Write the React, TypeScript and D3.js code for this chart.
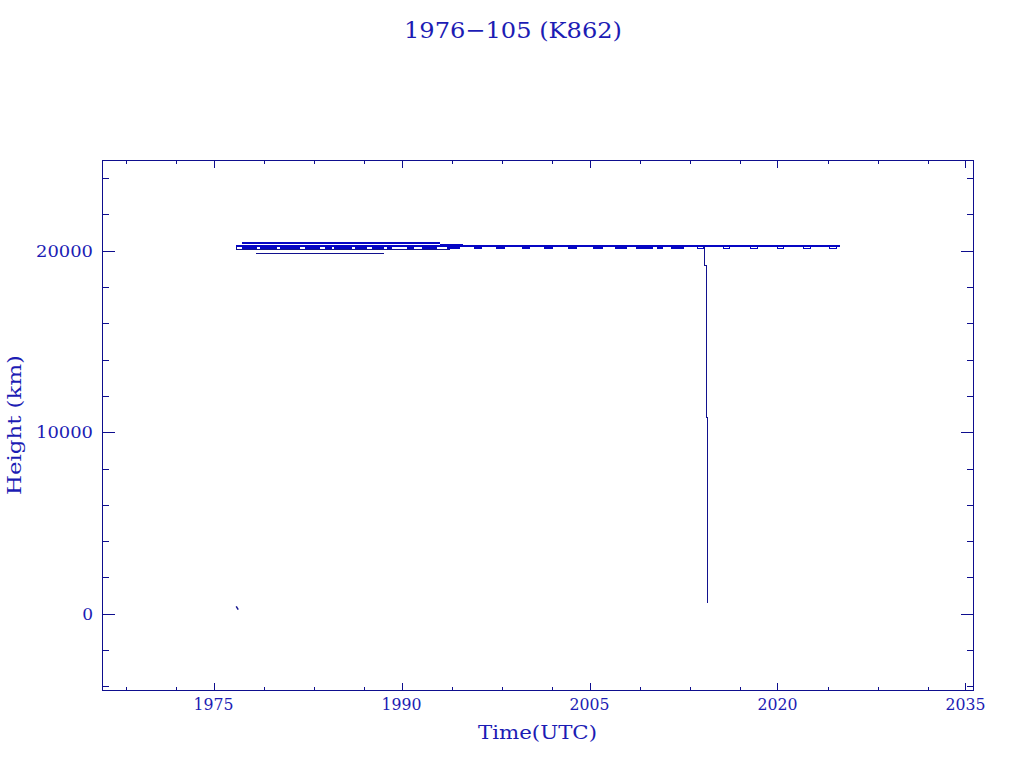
import React from "react";
import * as d3 from "d3";

type Pt = [number, number];

// ---- data (year, km) ----
const launchTrack: Pt[] = [[1976.81, 400], [1976.97, 230]];
const upperShort: Pt[] = [[1977.35, 20386], [1977.35, 20468], [1978.11, 20468]];
const upperTrack: Pt[] = [[1977.35, 20400], [1993.09, 20400]];
const upperTail: Pt[] = [[1993.09, 20358], [1994.83, 20358], [1994.83, 20303], [1995.5, 20303], [1995.5, 20259]];
const mainTrack: Pt[] = [[1976.81, 20259], [2025.0, 20259]];
const lowerTrack: Pt[] = [[1976.81, 20259], [1976.81, 20066], [1993.84, 20066]];
const bottomTrack: Pt[] = [[1978.4, 19829], [1988.6, 19829]];
const decayTrack: Pt[] = [[2014.2, 20259], [2014.2, 19185], [2014.3, 19185], [2014.3, 10810], [2014.4, 10810], [2014.4, 617]];

const dipStarts = [1977.27, 1978.73, 1980.32, 1982.32, 1983.91, 1984.58, 1986.31, 1987.64, 1988.84, 1990.43, 1991.63, 1993.63, 1995.75, 1997.56, 1999.61, 2001.33, 2003.3, 2005.28, 2007.06, 2008.73, 2010.39, 2011.5];
const dipEnds = [1978.46, 1980.06, 1981.92, 1983.51, 1984.45, 1986.04, 1987.24, 1988.57, 1989.24, 1990.96, 1992.83, 1994.69, 1996.44, 1998.28, 2000.27, 2002.1, 2004.0, 2006.1, 2008.02, 2010.09, 2010.9, 2012.5];
const dipHeight = 20176;

const boxStarts = [2013.63, 2015.7, 2017.83, 2019.99, 2022.1, 2024.14];
const boxEnds = [2014.1, 2016.2, 2018.37, 2020.49, 2022.6, 2024.7];
const boxTop = 20259;
const boxBottom = 20110;

const xMajor = [1975, 1990, 2005, 2020, 2035];
const xMinor = [1968, 1972, 1979, 1983, 1987, 1994, 1998, 2002, 2009, 2013, 2017, 2024, 2028, 2032];
const yMajor = [0, 10000, 20000];
const yMinor = [-4000, -2000, 2000, 4000, 6000, 8000, 12000, 14000, 16000, 18000, 22000, 24000];

const title = "1976\u2212105 (K862)";
const xTitle = "Time(UTC)";
const yTitle = "Height (km)";

// ---- layout ----
const L = 102.5, R = 973.5, T = 160.5, B = 690.5;
const x = d3.scaleLinear().domain([1966.14, 2035.64]).range([L, R]);
const y = d3.scaleLinear().domain([-4230, 24970]).range([B, T]);
const line = d3.line<Pt>().x(d => x(d[0])).y(d => y(d[1]));

const AX = "#0e0e8e";
const TXT = "#1c1cb4";
const DATA = "#0606c4";
const DARK = "#12128e";
const FONT = "DejaVu Serif";

export default function App() {
  const dips: Pt[][] = dipStarts.map((s, i) => [[s, dipHeight], [dipEnds[i], dipHeight]]);
  const boxes: Pt[][] = boxStarts.map((s, i) => [[s, boxTop], [s, boxBottom], [boxEnds[i], boxBottom], [boxEnds[i], boxTop]]);
  const yMajLen = 12.7, yMinLen = 6.3, xMajLen = 7.8, xMinLen = 3.9;
  return (
    <svg width={1024} height={768} style={{ position: "absolute", left: 0, top: 0, background: "#fff" }}>
      <text x={513} y={38} fontFamily={FONT} fontSize={23} fill={TXT} textAnchor="middle" textLength={218} lengthAdjust="spacingAndGlyphs">{title}</text>
      <g shapeRendering="crispEdges" stroke={AX} strokeWidth={1} fill="none">
        <rect x={L} y={T} width={R - L} height={B - T} />
        {xMajor.map(v => (
          <g key={"xM" + v}>
            <line x1={Math.round(x(v)) + 0.5} x2={Math.round(x(v)) + 0.5} y1={B} y2={B - xMajLen} />
            <line x1={Math.round(x(v)) + 0.5} x2={Math.round(x(v)) + 0.5} y1={T} y2={T + xMajLen} />
          </g>
        ))}
        {xMinor.map(v => (
          <g key={"xm" + v}>
            <line x1={Math.round(x(v)) + 0.5} x2={Math.round(x(v)) + 0.5} y1={B} y2={B - xMinLen} />
            <line x1={Math.round(x(v)) + 0.5} x2={Math.round(x(v)) + 0.5} y1={T} y2={T + xMinLen} />
          </g>
        ))}
        {yMajor.map(v => (
          <g key={"yM" + v}>
            <line y1={Math.round(y(v)) + 0.5} y2={Math.round(y(v)) + 0.5} x1={L} x2={L + yMajLen} />
            <line y1={Math.round(y(v)) + 0.5} y2={Math.round(y(v)) + 0.5} x1={R} x2={R - yMajLen} />
          </g>
        ))}
        {yMinor.map(v => (
          <g key={"ym" + v}>
            <line y1={Math.round(y(v)) + 0.5} y2={Math.round(y(v)) + 0.5} x1={L} x2={L + yMinLen} />
            <line y1={Math.round(y(v)) + 0.5} y2={Math.round(y(v)) + 0.5} x1={R} x2={R - yMinLen} />
          </g>
        ))}
      </g>
      <g fontFamily={FONT} fill={TXT} fontSize={17}>
        {xMajor.map(v => (
          <text key={"xl" + v} x={x(v)} y={710} textAnchor="middle" textLength={40} lengthAdjust="spacingAndGlyphs">{String(v)}</text>
        ))}
        {yMajor.map(v => {
          const s = String(v);
          return (
            <text key={"yl" + v} x={93} y={y(v) + 6} textAnchor="end" {...(s.length > 1 ? { textLength: 57, lengthAdjust: "spacingAndGlyphs" } : {})}>{s}</text>
          );
        })}
        <text x={537.5} y={739} fontSize={18} textAnchor="middle" textLength={119} lengthAdjust="spacingAndGlyphs">{xTitle}</text>
        <text transform="translate(21,425) rotate(-90)" fontSize={18} textAnchor="middle" textLength={140} lengthAdjust="spacingAndGlyphs">{yTitle}</text>
      </g>
      <g fill="none" shapeRendering="crispEdges">
        <path d={line(launchTrack) || ""} stroke={DARK} strokeWidth={1.5} shapeRendering="auto" />
        <path d={line(bottomTrack) || ""} stroke={DARK} strokeWidth={1} />
        <path d={line(lowerTrack) || ""} stroke={DARK} strokeWidth={1} />
        <path d={line(upperShort) || ""} stroke={DATA} strokeWidth={1} />
        <path d={line(upperTrack) || ""} stroke={DATA} strokeWidth={2} />
        <path d={line(upperTail) || ""} stroke={DATA} strokeWidth={1} />
        <path d={line(mainTrack) || ""} stroke={DATA} strokeWidth={2} />
        {dips.map((d, i) => <path key={"d" + i} d={line(d) || ""} stroke={DATA} strokeWidth={2} />)}
        {boxes.map((d, i) => <path key={"b" + i} d={line(d) || ""} stroke={DATA} strokeWidth={1} />)}
        <path d={line(decayTrack) || ""} stroke={DARK} strokeWidth={1} />
      </g>
    </svg>
  );
}
